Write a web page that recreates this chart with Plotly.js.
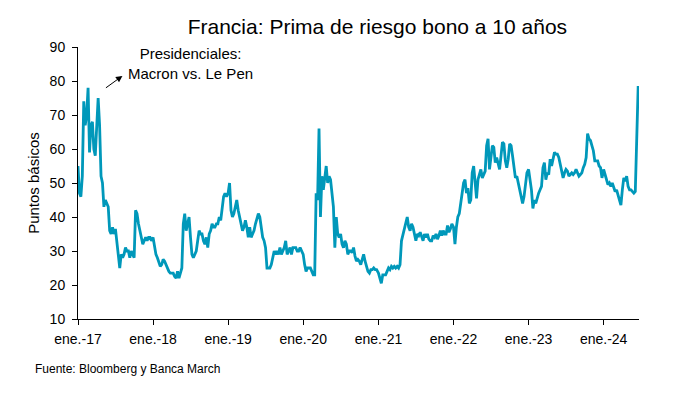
<!DOCTYPE html>
<html>
<head>
<meta charset="utf-8">
<script src="https://cdn.plot.ly/plotly-3.0.1.min.js"></script>
<style>
html, body { margin: 0; padding: 0; background: #ffffff; }
#chart { width: 695px; height: 398px; }
</style>
</head>
<body>
<div id="chart"></div>
<script>
// Weekly readings (basis points), each year starting on 1 January
const values2017 = [55, 47, 46, 52, 74, 67, 70, 78, 59, 67, 68, 60, 58, 66, 75, 67, 52, 50, 43, 45, 44, 43, 36, 35, 37, 35, 36.5, 33, 28, 25, 29, 28, 29, 31, 30, 30, 28, 30, 29, 28, 42, 41, 38, 36, 34, 32, 33, 34, 33, 34, 34, 33];
const values2018 = [34, 31, 29, 28, 27, 25.5, 26, 27.5, 27, 26, 24.5, 24, 23.5, 23.5, 23.5, 22.5, 22, 24, 22, 23.5, 25, 38, 41, 36, 38, 40, 34, 29, 28, 29, 30, 33, 36, 35, 35, 33, 32, 34, 31, 35, 36, 38, 37, 37, 38, 38, 40, 39, 42, 46, 47, 46];
const values2019 = [47, 50, 42, 40, 41, 43, 45, 42, 40, 38, 36, 37, 39, 37, 34, 37, 34, 35, 36, 38, 40, 41, 40, 36, 34, 33, 31, 25, 25, 25, 26, 28, 30, 29, 30, 29, 31, 29, 30, 31, 33, 29, 30, 31, 29, 31, 31, 31, 30, 30, 31, 30];
const values2020 = [29, 26, 24, 25, 25, 25, 24, 23, 23, 47, 45, 66, 40, 52, 48, 51, 55, 50, 52, 51, 46, 43, 31, 40, 35, 34, 35, 32, 31, 33, 32, 29, 30, 30, 29.5, 31, 28.5, 27, 27.5, 27, 26, 28, 29, 27, 25, 24, 23.5, 24.5, 24.5, 25, 24.5, 24.5];
const values2021 = [23.5, 22, 20.5, 23, 23, 23, 24, 25, 24.5, 25.5, 25, 25.5, 25, 25.5, 25, 26, 33, 35, 37, 39, 40, 37, 36, 38, 37, 35, 33, 35, 34.5, 35.5, 34, 33, 35, 34, 35, 33.5, 33, 33, 34.5, 34, 35, 33.5, 34.5, 36, 34.5, 36, 35, 35, 37.5, 35.5, 36.5, 38];
const values2022 = [37, 32, 37, 40, 41, 44, 47, 50, 51, 47, 48.5, 44, 45, 53, 55, 49, 45.5, 51, 53, 54, 51.5, 52.5, 53.5, 61, 63, 54, 57, 61, 60.5, 56, 57.5, 56, 54, 58, 62, 61.5, 56.5, 54.5, 57, 61.5, 61, 58, 54.5, 51.5, 52, 50, 48, 45, 44, 46, 50, 53];
const values2023 = [54, 51.5, 48, 42.5, 45, 44, 46, 47, 48, 49, 54.5, 56, 51, 53, 52.5, 57, 55, 57, 59, 58.5, 58.5, 57.5, 55.5, 53, 51.5, 53, 54, 53.5, 52, 52.5, 53, 52.5, 53, 54, 53, 52, 52.5, 53, 54.5, 55.5, 57.5, 64.5, 63, 62.5, 61, 59.5, 56.5, 56.5, 56.5, 55, 54.5, 51.5];
const values2024 = [54, 52.5, 50.5, 49.5, 50, 49, 50, 48.5, 47.5, 48, 46.5, 44.5, 43.5, 48, 51.5, 50.5, 52, 49, 48, 48, 47.5, 47, 47.5, 61, 78.5];

const tickDates = ['2017-01-01', '2018-01-01', '2019-01-01', '2020-01-01', '2021-01-01', '2022-01-01', '2023-01-01', '2024-01-01'];
const tickLabels = ['ene.-17', 'ene.-18', 'ene.-19', 'ene.-20', 'ene.-21', 'ene.-22', 'ene.-23', 'ene.-24'];

const yearSeries = [
  [2017, values2017], [2018, values2018], [2019, values2019], [2020, values2020],
  [2021, values2021], [2022, values2022], [2023, values2023], [2024, values2024]
];

function weeklyDates(year, n) {
  const out = [];
  for (let i = 0; i < n; i++) {
    const d = new Date(Date.UTC(year, 0, 1 + 7 * i));
    out.push(d.toISOString().slice(0, 10));
  }
  return out;
}

const xs = [];
const ys = [];
yearSeries.forEach(([yr, vals]) => {
  xs.push(...weeklyDates(yr, vals.length));
  ys.push(...vals);
});

const FONT = 'Liberation Sans, Arial, Helvetica, sans-serif';

const trace = {
  type: 'scatter',
  mode: 'lines',
  x: xs,
  y: ys,
  line: { color: '#0098BA', width: 2.8 },
  hoverinfo: 'skip'
};

const layout = {
  width: 695,
  height: 398,
  margin: { l: 78, r: 56, t: 47, b: 79 },
  paper_bgcolor: '#ffffff',
  plot_bgcolor: '#ffffff',
  showlegend: false,
  font: { family: FONT, size: 14, color: '#000000' },
  title: {
    text: 'Francia: Prima de riesgo bono a 10 años',
    font: { family: FONT, size: 21, color: '#000000' },
    x: 0.543, xref: 'container', xanchor: 'center',
    y: 0.933, yref: 'container', yanchor: 'middle'
  },
  xaxis: {
    type: 'date',
    range: ['2017-01-01', '2024-06-21'],
    tickmode: 'array',
    tickvals: tickDates,
    ticktext: tickLabels,
    ticks: 'outside', ticklen: 5, tickwidth: 1, tickcolor: '#000000',
    ticklabelstandoff: 2,
    showline: true, linecolor: '#000000', linewidth: 1,
    showgrid: false, zeroline: false,
    tickfont: { family: FONT, size: 14, color: '#000000' }
  },
  yaxis: {
    range: [10, 90],
    tick0: 10, dtick: 10,
    ticks: 'outside', ticklen: 5, tickwidth: 1, tickcolor: '#000000',
    ticklabelstandoff: 4,
    showline: true, linecolor: '#000000', linewidth: 1,
    showgrid: false, zeroline: false,
    tickfont: { family: FONT, size: 14, color: '#000000' },
    title: { text: 'Puntos básicos', font: { family: FONT, size: 15, color: '#000000' }, standoff: 6 }
  },
  annotations: [
    {
      x: '2017-08-05', y: 81.5, xref: 'x', yref: 'y',
      ax: -18, ay: 13, axref: 'pixel', ayref: 'pixel',
      text: '', showarrow: true, arrowhead: 2, arrowsize: 1.3, arrowwidth: 1, arrowcolor: '#000000'
    },
    {
      x: 0.201, y: 0.939, xref: 'paper', yref: 'paper',
      xanchor: 'center', yanchor: 'middle', align: 'center',
      text: 'Presidenciales:<br>Macron vs. Le Pen',
      showarrow: false,
      font: { family: FONT, size: 15, color: '#000000' }
    },
    {
      x: -0.0802, y: -0.184, xref: 'paper', yref: 'paper',
      xanchor: 'left', yanchor: 'middle', align: 'left',
      text: 'Fuente: Bloomberg y Banca March',
      showarrow: false,
      font: { family: FONT, size: 12, color: '#000000' }
    }
  ]
};

Plotly.newPlot('chart', [trace], layout, { staticPlot: true, displayModeBar: false });
</script>
</body>
</html>
